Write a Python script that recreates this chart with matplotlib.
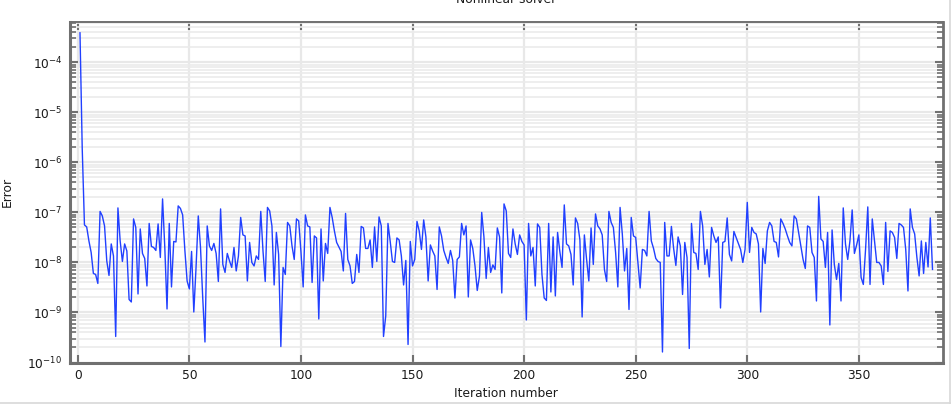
import numpy as np
import matplotlib
matplotlib.use('Agg')
import matplotlib.pyplot as plt
from matplotlib.lines import Line2D

# solver error per iteration, stored as log10(error)
log_err_a = [  # iterations 1-100
    -3.41, -5.72, -7.25, -7.29, -7.57, -7.80, -8.22, -8.24, -8.42, -6.98,
    -7.07, -7.27, -7.97, -8.26, -7.63, -7.87, -9.48, -6.91, -7.57, -7.98,
    -7.63, -7.77, -8.74, -8.79, -7.13, -7.30, -8.63, -7.33, -7.82, -7.92,
    -8.47, -7.22, -7.68, -7.70, -7.76, -7.23, -7.90, -6.73, -7.70, -8.93,
    -7.22, -8.49, -7.58, -7.59, -6.87, -6.92, -7.05, -7.76, -8.37, -8.53,
    -7.78, -8.99, -8.10, -7.07, -7.70, -8.71, -9.59, -7.27, -7.67, -7.76,
    -7.62, -7.82, -8.38, -6.93, -8.04, -8.20, -7.82, -7.97, -8.10, -7.70,
    -8.17, -7.87, -7.10, -7.45, -7.47, -8.37, -7.60, -8.00, -8.07, -7.87,
    -7.94, -6.98, -7.77, -8.38, -6.90, -6.97, -7.27, -8.45, -7.40, -7.84,
    -9.68, -8.10, -8.24, -7.20, -7.27, -7.67, -7.94, -7.13, -7.17, -7.78]
log_err_b = [  # iterations 101-200
    -8.49, -7.05, -7.27, -7.29, -8.40, -7.47, -7.51, -9.13, -7.33, -8.37,
    -7.62, -7.82, -6.90, -7.10, -7.37, -7.60, -7.69, -7.78, -8.17, -7.02,
    -7.94, -8.07, -8.42, -8.38, -7.84, -8.20, -7.28, -7.31, -7.72, -7.72,
    -7.55, -8.10, -7.29, -7.98, -7.09, -7.27, -9.48, -9.07, -7.22, -7.58,
    -7.98, -8.00, -7.51, -7.55, -7.87, -8.45, -7.96, -9.64, -7.58, -8.07,
    -7.94, -7.18, -7.37, -7.74, -7.15, -7.49, -8.37, -7.65, -7.77, -7.87,
    -8.54, -7.29, -7.47, -7.76, -7.90, -8.02, -7.76, -7.96, -8.71, -7.94,
    -7.89, -7.22, -7.45, -7.27, -8.69, -7.55, -7.72, -8.07, -8.56, -8.27,
    -7.00, -7.49, -8.32, -7.70, -8.20, -8.05, -8.14, -7.31, -7.49, -8.61,
    -6.83, -6.97, -7.82, -7.90, -7.33, -7.63, -7.84, -7.45, -7.58, -7.65]
log_err_c = [  # iterations 201-300
    -9.15, -7.22, -7.87, -7.70, -8.47, -7.23, -7.30, -8.24, -8.71, -8.76,
    -7.22, -8.59, -7.49, -8.67, -7.40, -7.78, -8.10, -6.85, -7.63, -7.67,
    -7.84, -8.45, -7.11, -7.22, -7.55, -9.09, -7.45, -7.94, -8.37, -7.31,
    -8.04, -7.03, -7.27, -7.33, -7.45, -8.14, -8.38, -6.98, -7.20, -7.30,
    -7.80, -8.49, -6.90, -7.43, -8.17, -7.72, -8.94, -7.10, -7.47, -7.50,
    -8.00, -8.51, -7.74, -7.76, -7.87, -6.98, -7.57, -7.72, -7.92, -7.98,
    -8.00, -9.79, -7.20, -7.87, -7.87, -7.28, -7.72, -8.06, -7.49, -7.67,
    -8.64, -7.60, -7.90, -9.72, -7.22, -7.80, -7.82, -8.14, -6.98, -7.27,
    -8.04, -7.74, -8.29, -7.30, -7.47, -7.60, -7.49, -8.91, -7.60, -7.58,
    -7.11, -7.84, -7.97, -7.38, -7.50, -7.62, -7.74, -8.00, -7.74, -6.80]
log_err_d = [  # iterations 301-383
    -7.80, -7.30, -7.40, -7.43, -7.63, -8.99, -7.72, -8.02, -7.37, -7.20,
    -7.27, -7.58, -7.60, -7.89, -7.13, -7.22, -7.33, -7.47, -7.60, -7.67,
    -7.07, -7.13, -7.40, -7.67, -7.94, -8.12, -7.27, -7.30, -7.80, -7.90,
    -8.77, -6.68, -7.53, -7.58, -8.10, -7.40, -9.25, -7.35, -8.04, -8.34,
    -8.02, -8.77, -6.91, -7.63, -7.94, -7.57, -6.95, -7.82, -7.65, -7.45,
    -8.30, -8.44, -7.74, -6.89, -8.44, -7.13, -7.57, -8.00, -8.00, -8.07,
    -8.44, -7.20, -8.18, -7.37, -7.40, -7.50, -7.92, -7.22, -7.25, -7.30,
    -7.74, -8.57, -6.93, -7.30, -7.43, -7.90, -8.27, -7.57, -8.22, -7.60,
    -8.09, -7.11, -8.14]

title = 'Nonlinear solver'
xlabel = 'Iteration number'
ylabel = 'Error'
xticks = [0, 50, 100, 150, 200, 250, 300, 350]

err = 10.0 ** np.array(log_err_a + log_err_b + log_err_c + log_err_d)
iters = np.arange(1, len(err) + 1)

W, H = 951, 404
fig = plt.figure(figsize=(W / 100, H / 100), dpi=100)
ax = fig.add_axes([69.5 / W, 1 - 362.5 / H, (943 - 69.5) / W, (362.5 - 22) / H])

ax.plot(iters, err, color='#2140ff', lw=1.0, zorder=3)

ax.set_yscale('log')
ax.set_ylim(1e-10, 6.4e-4)
ax.set_xlim(-3.7, 387.7)
ax.set_xticks(xticks)
ax.minorticks_on()
ax.xaxis.set_minor_locator(matplotlib.ticker.NullLocator())

# light grey grid, like the COMSOL plot
ax.set_axisbelow(True)
ax.grid(which='major', color='#e8e8e8', lw=1.6)
ax.grid(which='minor', axis='y', color='#ebebeb', lw=1.2)

gray = '#707070'
for side, w in [('left', 2.2), ('bottom', 2.2), ('top', 1.4), ('right', 2.0)]:
    ax.spines[side].set_color(gray)
    ax.spines[side].set_linewidth(w)

ax.tick_params(which='both', direction='in', top=True, right=True, color=gray,
               labelsize=8.8, labelcolor='#1a1a1a')
ax.tick_params(which='major', length=6, width=1.5, pad=5)
ax.tick_params(which='minor', length=4, width=1.2)

fig.text(506 / W, 1 - 3 / H, title, ha='center', va='baseline', fontsize=8.8,
         color='#1a1a1a')
fig.text(506 / W, 1 - 397 / H, xlabel, ha='center', va='baseline', fontsize=8.8,
         color='#1a1a1a')
fig.text(7 / W, 1 - 192 / H, ylabel, ha='center', va='center', rotation=90,
         fontsize=8.8, color='#1a1a1a')

# window frame edges at bottom and right
fig.add_artist(Line2D([0, 949.5 / W], [1 - 402.5 / H] * 2, color='#d8d8d8', lw=1.2))
fig.add_artist(Line2D([949.5 / W] * 2, [0, 1], color='#d8d8d8', lw=1.2))

fig.savefig('out.png', dpi=100)
